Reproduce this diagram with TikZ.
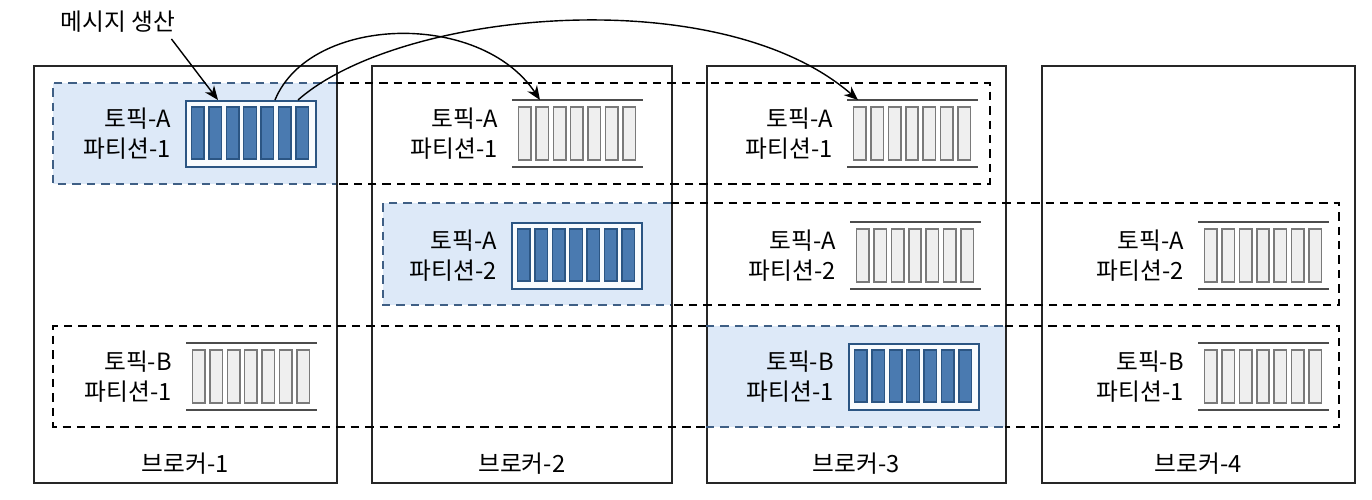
\documentclass[tikz,border=0pt]{standalone}
\usepackage{fontspec}
\setmainfont{Noto Sans CJK KR}
\usetikzlibrary{positioning, calc, arrows.meta}

\definecolor{leaderblue}{HTML}{4A7AB0}
\definecolor{leaderedge}{HTML}{2B5583}
\definecolor{hlfill}{HTML}{DDE9F8}
\definecolor{hledge}{HTML}{3F5F85}
\definecolor{cellgray}{HTML}{EFEFEF}
\definecolor{celledge}{HTML}{7A7A7A}

\begin{document}
\begin{tikzpicture}[
    x=0.02cm, y=-0.02cm,
    font=\fontsize{13.5}{17}\selectfont,
    broker/.style={draw=black!85, line width=0.9pt, anchor=north west, inner sep=0, minimum height=8.34cm},
    slot/.style={anchor=north west, inner sep=0, minimum width=2.6cm, minimum height=1.32cm},
    leaderslot/.style={slot, draw=leaderedge, line width=1.1pt, fill=white!80!hlfill},
    cell/.style={draw=celledge, line width=0.9pt, fill=cellgray},
    leadercell/.style={draw=leaderedge, line width=0.8pt, fill=leaderblue},
    rail/.style={line width=1pt, draw=black!70},
    plabel/.style={align=right, left=0.16cm of #1},
    group/.style={line width=1.25pt, dash pattern=on 4.8pt off 3.4pt},
    hl/.style={fill=hlfill},
    arrow/.style={-{Stealth[length=8pt,width=6.5pt]}, line width=0.8pt}
]
    \useasboundingbox (0,0) rectangle (1372,500);

    % Leader highlights
    \fill[hl] (53,83) rectangle (336,184);
    \fill[hl] (383,203) rectangle (671,305);
    \fill[hl] (706,326) rectangle (1005,427);

    % Brokers
    \node[broker, minimum width=6.06cm] (b1) at (33,65) {};
    \node[broker, minimum width=6.00cm] (b2) at (371,65) {};
    \node[broker, minimum width=5.98cm] (b3) at (706,65) {};
    \node[broker, minimum width=6.26cm] (b4) at (1041,65) {};
    \node (b1lbl) at ([yshift=0.4cm]b1.south) {브로커-1};
    \node (b2lbl) at ([yshift=0.4cm]b2.south) {브로커-2};
    \node (b3lbl) at ([yshift=0.4cm]b3.south) {브로커-3};
    \node (b4lbl) at ([yshift=0.4cm]b4.south) {브로커-4};

    % Partition groups (dashed)
    \draw[group] (336,83) -- (990,83) -- (990,184) -- (336,184);
    \draw[group, draw=hledge] (336,83) -- (53,83) -- (53,184) -- (336,184);
    \draw[group] (671,203) -- (1339,203) -- (1339,305) -- (671,305);
    \draw[group, draw=hledge] (671,203) -- (383,203) -- (383,305) -- (671,305);
    \draw[group] (706,326) -- (53,326) -- (53,427) -- (706,427);
    \draw[group] (1005,326) -- (1339,326) -- (1339,427) -- (1005,427);
    \draw[group, draw=hledge] (706,326) -- (1005,326);
    \draw[group, draw=hledge] (706,427) -- (1005,427);

    % Leader slots
    \node[leaderslot] (s11) at (185,100) {};
    \node[leaderslot] (s22) at (511,222) {};
    \node[leaderslot] (s3b) at (848,343) {};
    \foreach \s in {s11,s22,s3b} {
        \foreach \i in {0,...,6}
            \draw[leadercell] ($(\s.north west)+(6.5+\i*17.4,7)$) rectangle ++(12.5,52);
    }

    % Follower slots
    \node[slot] (s21) at (512,100) {};
    \node[slot] (s31) at (847,100) {};
    \node[slot] (s32) at (850,222) {};
    \node[slot] (s42) at (1198,222) {};
    \node[slot] (s1b) at (186,343) {};
    \node[slot] (s4b) at (1198,343) {};
    \foreach \s in {s21,s31,s32,s42,s1b,s4b} {
        \draw[rail] (\s.north west) -- (\s.north east);
        \draw[rail] (\s.south west) -- (\s.south east);
        \foreach \i in {0,...,6}
            \draw[cell] ($(\s.north west)+(6.5+\i*17.4,7)$) rectangle ++(12.5,53);
    }

    % Partition labels
    \node[plabel=s11] (l11) {토픽-A\\파티션-1};
    \node[plabel=s21] (l21) {토픽-A\\파티션-1};
    \node[plabel=s31] (l31) {토픽-A\\파티션-1};
    \node[plabel=s22] (l22) {토픽-A\\파티션-2};
    \node[plabel=s32] (l32) {토픽-A\\파티션-2};
    \node[plabel=s42] (l42) {토픽-A\\파티션-2};
    \node[plabel=s1b] (l1b) {토픽-B\\파티션-1};
    \node[plabel=s3b] (l3b) {토픽-B\\파티션-1};
    \node[plabel=s4b] (l4b) {토픽-B\\파티션-1};

    % Produce and replicate
    \node (msg) at (118,22) {메시지 생산};
    \draw[arrow] ([xshift=-0.2cm]msg.south east) -- ([xshift=0.66cm]s11.north west);
    \draw[arrow] ([xshift=1.8cm]s11.north west) .. controls +(35,-85) and +(-60,-90) .. ([xshift=0.56cm]s21.north west);
    \draw[arrow] ([xshift=2.26cm]s11.north west) .. controls +(102,-90) and +(-138,-120) .. ([xshift=0.22cm]s31.north west);
\end{tikzpicture}
\end{document}
